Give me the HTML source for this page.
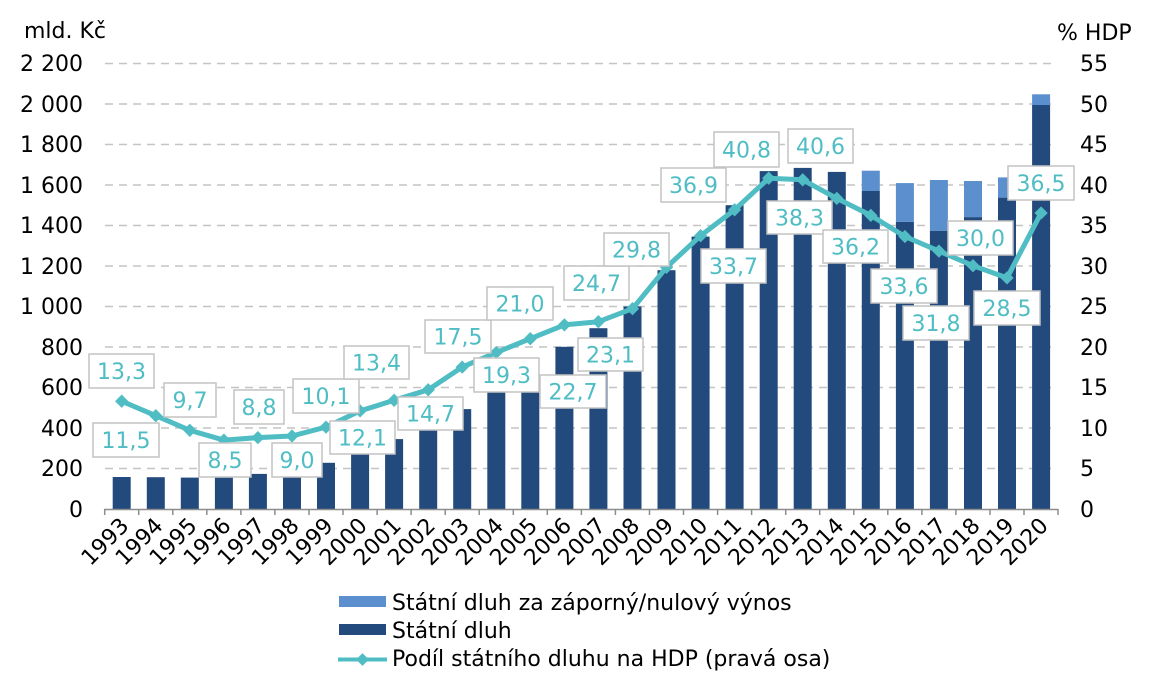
<!DOCTYPE html>
<html><head><meta charset="utf-8"><style>
html,body{margin:0;padding:0;background:#fff;}
svg{display:block;font-family:"DejaVu Sans","Liberation Sans",sans-serif;}
</style></head><body>
<svg width="1155" height="683" viewBox="0 0 1155 683" xmlns="http://www.w3.org/2000/svg">
<g stroke="#c4c4c4" stroke-width="1.5" stroke-dasharray="8,6">
<line x1="105" y1="63.5" x2="1057" y2="63.5"/>
<line x1="105" y1="104" x2="1057" y2="104"/>
<line x1="105" y1="144.5" x2="1057" y2="144.5"/>
<line x1="105" y1="185" x2="1057" y2="185"/>
<line x1="105" y1="225.5" x2="1057" y2="225.5"/>
<line x1="105" y1="266" x2="1057" y2="266"/>
<line x1="105" y1="306.5" x2="1057" y2="306.5"/>
<line x1="105" y1="347" x2="1057" y2="347"/>
<line x1="105" y1="387.5" x2="1057" y2="387.5"/>
<line x1="105" y1="428" x2="1057" y2="428"/>
<line x1="105" y1="468.5" x2="1057" y2="468.5"/>
</g>
<g font-size="22" fill="#000" text-anchor="end">
<text x="83" y="71">2 200</text><text x="83" y="112">2 000</text><text x="83" y="152">1 800</text>
<text x="83" y="193">1 600</text><text x="83" y="233">1 400</text><text x="83" y="274">1 200</text>
<text x="83" y="314">1 000</text><text x="83" y="355">800</text><text x="83" y="395">600</text>
<text x="83" y="436">400</text><text x="83" y="476">200</text><text x="83" y="517">0</text>
</g>
<g font-size="22" fill="#000">
<text x="1080" y="71">55</text><text x="1080" y="112">50</text><text x="1080" y="152">45</text>
<text x="1080" y="193">40</text><text x="1080" y="233">35</text><text x="1080" y="274">30</text>
<text x="1080" y="314">25</text><text x="1080" y="355">20</text><text x="1080" y="395">15</text>
<text x="1080" y="436">10</text><text x="1080" y="476">5</text><text x="1080" y="517">0</text>
<text x="24" y="38">mld. Kč</text>
<text x="1057" y="40">% HDP</text>
</g>
<g fill="#234a7c">
<rect x="112.7" y="477" width="18" height="32"/>
<rect x="146.8" y="477.2" width="18" height="31.8"/>
<rect x="180.8" y="477.6" width="18" height="31.4"/>
<rect x="214.9" y="477.6" width="18" height="31.4"/>
<rect x="248.9" y="473.9" width="18" height="35.1"/>
<rect x="283" y="474.3" width="18" height="34.7"/>
<rect x="317" y="462.8" width="18" height="46.2"/>
<rect x="351.1" y="450.4" width="18" height="58.6"/>
<rect x="385.1" y="439.1" width="18" height="69.9"/>
<rect x="419.2" y="428.9" width="18" height="80.1"/>
<rect x="453.2" y="409.1" width="18" height="99.9"/>
<rect x="487.3" y="389" width="18" height="120"/>
<rect x="521.3" y="389" width="18" height="120"/>
<rect x="555.4" y="346.8" width="18" height="162.2"/>
<rect x="589.4" y="328.2" width="18" height="180.8"/>
<rect x="623.5" y="306.5" width="18" height="202.5"/>
<rect x="657.5" y="270.2" width="18" height="238.8"/>
<rect x="691.6" y="236.6" width="18" height="272.4"/>
<rect x="725.6" y="205.2" width="18" height="303.8"/>
<rect x="759.7" y="171.1" width="18" height="337.9"/>
<rect x="793.7" y="167.9" width="18" height="341.1"/>
<rect x="827.8" y="171.9" width="18" height="337.1"/>
<rect x="861.8" y="191" width="18" height="318"/>
<rect x="895.9" y="221.8" width="18" height="287.2"/>
<rect x="929.9" y="230.7" width="18" height="278.3"/>
<rect x="964" y="217.1" width="18" height="291.9"/>
<rect x="998" y="197.6" width="18" height="311.4"/>
<rect x="1032.1" y="105" width="18" height="404"/>
</g>
<g fill="#5b8fce">
<rect x="861.8" y="170.7" width="18" height="20.3"/>
<rect x="895.9" y="183.1" width="18" height="38.7"/>
<rect x="929.9" y="180" width="18" height="50.7"/>
<rect x="964" y="181" width="18" height="36.1"/>
<rect x="998" y="177.4" width="18" height="20.2"/>
<rect x="1032.1" y="94.3" width="18" height="10.7"/>
</g>
<line x1="104" y1="509.5" x2="1058" y2="509.5" stroke="#8c8c8c" stroke-width="1.5"/>
<g stroke="#8c8c8c" stroke-width="1.5">
<line x1="104.7" y1="509" x2="104.7" y2="515"/><line x1="138.7" y1="509" x2="138.7" y2="515"/>
<line x1="172.8" y1="509" x2="172.8" y2="515"/><line x1="206.8" y1="509" x2="206.8" y2="515"/>
<line x1="240.9" y1="509" x2="240.9" y2="515"/><line x1="274.9" y1="509" x2="274.9" y2="515"/>
<line x1="309" y1="509" x2="309" y2="515"/><line x1="343" y1="509" x2="343" y2="515"/>
<line x1="377.1" y1="509" x2="377.1" y2="515"/><line x1="411.1" y1="509" x2="411.1" y2="515"/>
<line x1="445.2" y1="509" x2="445.2" y2="515"/><line x1="479.2" y1="509" x2="479.2" y2="515"/>
<line x1="513.3" y1="509" x2="513.3" y2="515"/><line x1="547.3" y1="509" x2="547.3" y2="515"/>
<line x1="581.4" y1="509" x2="581.4" y2="515"/><line x1="615.4" y1="509" x2="615.4" y2="515"/>
<line x1="649.5" y1="509" x2="649.5" y2="515"/><line x1="683.5" y1="509" x2="683.5" y2="515"/>
<line x1="717.6" y1="509" x2="717.6" y2="515"/><line x1="751.6" y1="509" x2="751.6" y2="515"/>
<line x1="785.7" y1="509" x2="785.7" y2="515"/><line x1="819.7" y1="509" x2="819.7" y2="515"/>
<line x1="853.8" y1="509" x2="853.8" y2="515"/><line x1="887.8" y1="509" x2="887.8" y2="515"/>
<line x1="921.9" y1="509" x2="921.9" y2="515"/><line x1="955.9" y1="509" x2="955.9" y2="515"/>
<line x1="990" y1="509" x2="990" y2="515"/><line x1="1024" y1="509" x2="1024" y2="515"/>
<line x1="1058" y1="509" x2="1058" y2="515"/>
</g>
<g font-size="22" fill="#000" text-anchor="end">
<text transform="translate(130,527) rotate(-45)">1993</text>
<text transform="translate(164.1,527) rotate(-45)">1994</text>
<text transform="translate(198.1,527) rotate(-45)">1995</text>
<text transform="translate(232.2,527) rotate(-45)">1996</text>
<text transform="translate(266.2,527) rotate(-45)">1997</text>
<text transform="translate(300.3,527) rotate(-45)">1998</text>
<text transform="translate(334.3,527) rotate(-45)">1999</text>
<text transform="translate(368.4,527) rotate(-45)">2000</text>
<text transform="translate(402.4,527) rotate(-45)">2001</text>
<text transform="translate(436.5,527) rotate(-45)">2002</text>
<text transform="translate(470.5,527) rotate(-45)">2003</text>
<text transform="translate(504.6,527) rotate(-45)">2004</text>
<text transform="translate(538.6,527) rotate(-45)">2005</text>
<text transform="translate(572.7,527) rotate(-45)">2006</text>
<text transform="translate(606.7,527) rotate(-45)">2007</text>
<text transform="translate(640.8,527) rotate(-45)">2008</text>
<text transform="translate(674.8,527) rotate(-45)">2009</text>
<text transform="translate(708.9,527) rotate(-45)">2010</text>
<text transform="translate(742.9,527) rotate(-45)">2011</text>
<text transform="translate(777,527) rotate(-45)">2012</text>
<text transform="translate(811,527) rotate(-45)">2013</text>
<text transform="translate(845.1,527) rotate(-45)">2014</text>
<text transform="translate(879.1,527) rotate(-45)">2015</text>
<text transform="translate(913.2,527) rotate(-45)">2016</text>
<text transform="translate(947.2,527) rotate(-45)">2017</text>
<text transform="translate(981.3,527) rotate(-45)">2018</text>
<text transform="translate(1015.3,527) rotate(-45)">2019</text>
<text transform="translate(1049.4,527) rotate(-45)">2020</text>
</g>
<polyline fill="none" stroke="#4fbdc3" stroke-width="5" stroke-linejoin="round" points="121.7,401.2 155.8,415.7 189.8,430.3 223.9,440.1 257.9,437.6 292,436 326,427.1 360.1,410.9 394.1,400.3 428.2,389.8 462.2,367.1 496.3,352.5 530.3,338.7 564.4,324.9 598.4,321.7 632.5,308.7 666.5,267.3 700.6,235.7 734.6,209.8 768.7,178.2 802.7,179.8 836.8,198.4 870.8,215.4 904.9,236.5 938.9,251.1 973,265.7 1007,277.9 1041.1,213"/>
<g fill="#4fbdc3">
<rect x="117" y="396.5" width="9.4" height="9.4" transform="rotate(45 121.7 401.2)"/>
<rect x="151.1" y="411" width="9.4" height="9.4" transform="rotate(45 155.8 415.7)"/>
<rect x="185.1" y="425.6" width="9.4" height="9.4" transform="rotate(45 189.8 430.3)"/>
<rect x="219.2" y="435.4" width="9.4" height="9.4" transform="rotate(45 223.9 440.1)"/>
<rect x="253.2" y="432.9" width="9.4" height="9.4" transform="rotate(45 257.9 437.6)"/>
<rect x="287.3" y="431.3" width="9.4" height="9.4" transform="rotate(45 292 436)"/>
<rect x="321.3" y="422.4" width="9.4" height="9.4" transform="rotate(45 326 427.1)"/>
<rect x="355.4" y="406.2" width="9.4" height="9.4" transform="rotate(45 360.1 410.9)"/>
<rect x="389.4" y="395.6" width="9.4" height="9.4" transform="rotate(45 394.1 400.3)"/>
<rect x="423.5" y="385.1" width="9.4" height="9.4" transform="rotate(45 428.2 389.8)"/>
<rect x="457.5" y="362.4" width="9.4" height="9.4" transform="rotate(45 462.2 367.1)"/>
<rect x="491.6" y="347.8" width="9.4" height="9.4" transform="rotate(45 496.3 352.5)"/>
<rect x="525.6" y="334" width="9.4" height="9.4" transform="rotate(45 530.3 338.7)"/>
<rect x="559.7" y="320.2" width="9.4" height="9.4" transform="rotate(45 564.4 324.9)"/>
<rect x="593.7" y="317" width="9.4" height="9.4" transform="rotate(45 598.4 321.7)"/>
<rect x="627.8" y="304" width="9.4" height="9.4" transform="rotate(45 632.5 308.7)"/>
<rect x="661.8" y="262.6" width="9.4" height="9.4" transform="rotate(45 666.5 267.3)"/>
<rect x="695.9" y="231" width="9.4" height="9.4" transform="rotate(45 700.6 235.7)"/>
<rect x="729.9" y="205.1" width="9.4" height="9.4" transform="rotate(45 734.6 209.8)"/>
<rect x="764" y="173.5" width="9.4" height="9.4" transform="rotate(45 768.7 178.2)"/>
<rect x="798" y="175.1" width="9.4" height="9.4" transform="rotate(45 802.7 179.8)"/>
<rect x="832.1" y="193.7" width="9.4" height="9.4" transform="rotate(45 836.8 198.4)"/>
<rect x="866.1" y="210.7" width="9.4" height="9.4" transform="rotate(45 870.8 215.4)"/>
<rect x="900.2" y="231.8" width="9.4" height="9.4" transform="rotate(45 904.9 236.5)"/>
<rect x="934.2" y="246.4" width="9.4" height="9.4" transform="rotate(45 938.9 251.1)"/>
<rect x="968.3" y="261" width="9.4" height="9.4" transform="rotate(45 973 265.7)"/>
<rect x="1002.3" y="273.2" width="9.4" height="9.4" transform="rotate(45 1007 277.9)"/>
<rect x="1036.4" y="208.3" width="9.4" height="9.4" transform="rotate(45 1041.1 213)"/>
</g>
<g fill="#fff" stroke="#c3c3c3" stroke-width="1.5">
<rect x="89" y="354" width="65" height="34"/>
<rect x="93" y="423" width="66" height="34"/>
<rect x="164" y="383" width="52" height="34"/>
<rect x="199" y="443" width="52" height="34"/>
<rect x="234" y="390" width="50" height="34"/>
<rect x="272" y="443" width="50" height="34"/>
<rect x="293" y="379" width="66" height="34"/>
<rect x="330" y="421" width="65" height="33"/>
<rect x="344" y="346" width="65" height="33"/>
<rect x="398" y="397" width="65" height="33"/>
<rect x="425" y="320" width="66" height="33"/>
<rect x="474" y="358" width="65" height="34"/>
<rect x="487" y="287" width="66" height="33"/>
<rect x="540" y="375" width="66" height="33"/>
<rect x="564" y="266" width="65" height="34"/>
<rect x="578" y="338" width="65" height="33"/>
<rect x="604" y="233" width="65" height="33"/>
<rect x="661" y="168" width="65" height="34"/>
<rect x="701" y="249" width="65" height="34"/>
<rect x="714" y="132" width="65" height="35"/>
<rect x="767" y="201" width="65" height="33"/>
<rect x="788" y="129" width="65" height="34"/>
<rect x="823" y="230" width="65" height="33"/>
<rect x="871" y="269" width="66" height="34"/>
<rect x="903" y="306" width="66" height="34"/>
<rect x="948" y="221" width="65" height="34"/>
<rect x="974" y="291" width="66" height="34"/>
<rect x="1008" y="166" width="66" height="34"/>
</g>
<g font-size="22" fill="#4fbdc3" text-anchor="middle">
<text x="121.5" y="379">13,3</text>
<text x="126" y="448">11,5</text>
<text x="190" y="408">9,7</text>
<text x="225" y="468">8,5</text>
<text x="259" y="415">8,8</text>
<text x="297" y="468">9,0</text>
<text x="326" y="404">10,1</text>
<text x="362.5" y="445.5">12,1</text>
<text x="376.5" y="370.5">13,4</text>
<text x="430.5" y="421.5">14,7</text>
<text x="458" y="344.5">17,5</text>
<text x="506.5" y="383">19,3</text>
<text x="520" y="311.5">21,0</text>
<text x="573" y="399.5">22,7</text>
<text x="596.5" y="291">24,7</text>
<text x="610.5" y="362.5">23,1</text>
<text x="636.5" y="257.5">29,8</text>
<text x="693.5" y="193">36,9</text>
<text x="733.5" y="274">33,7</text>
<text x="746.5" y="157.5">40,8</text>
<text x="799.5" y="225.5">38,3</text>
<text x="820.5" y="154">40,6</text>
<text x="855.5" y="254.5">36,2</text>
<text x="904" y="294">33,6</text>
<text x="936" y="331">31,8</text>
<text x="980.5" y="246">30,0</text>
<text x="1007" y="316">28,5</text>
<text x="1041" y="191">36,5</text>
</g>
<rect x="339" y="596" width="47" height="11" fill="#5b8fce"/>
<rect x="339" y="624" width="47" height="11" fill="#234a7c"/>
<line x1="338" y1="659.5" x2="387" y2="659.5" stroke="#4fbdc3" stroke-width="4"/>
<rect x="358" y="655" width="9" height="9" fill="#4fbdc3" transform="rotate(45 362.5 659.5)"/>
<g font-size="22" fill="#000">
<text x="392" y="610">Státní dluh za záporný/nulový výnos</text>
<text x="392" y="638">Státní dluh</text>
<text x="392" y="666">Podíl státního dluhu na HDP (pravá osa)</text>
</g>
</svg>
</body></html>
